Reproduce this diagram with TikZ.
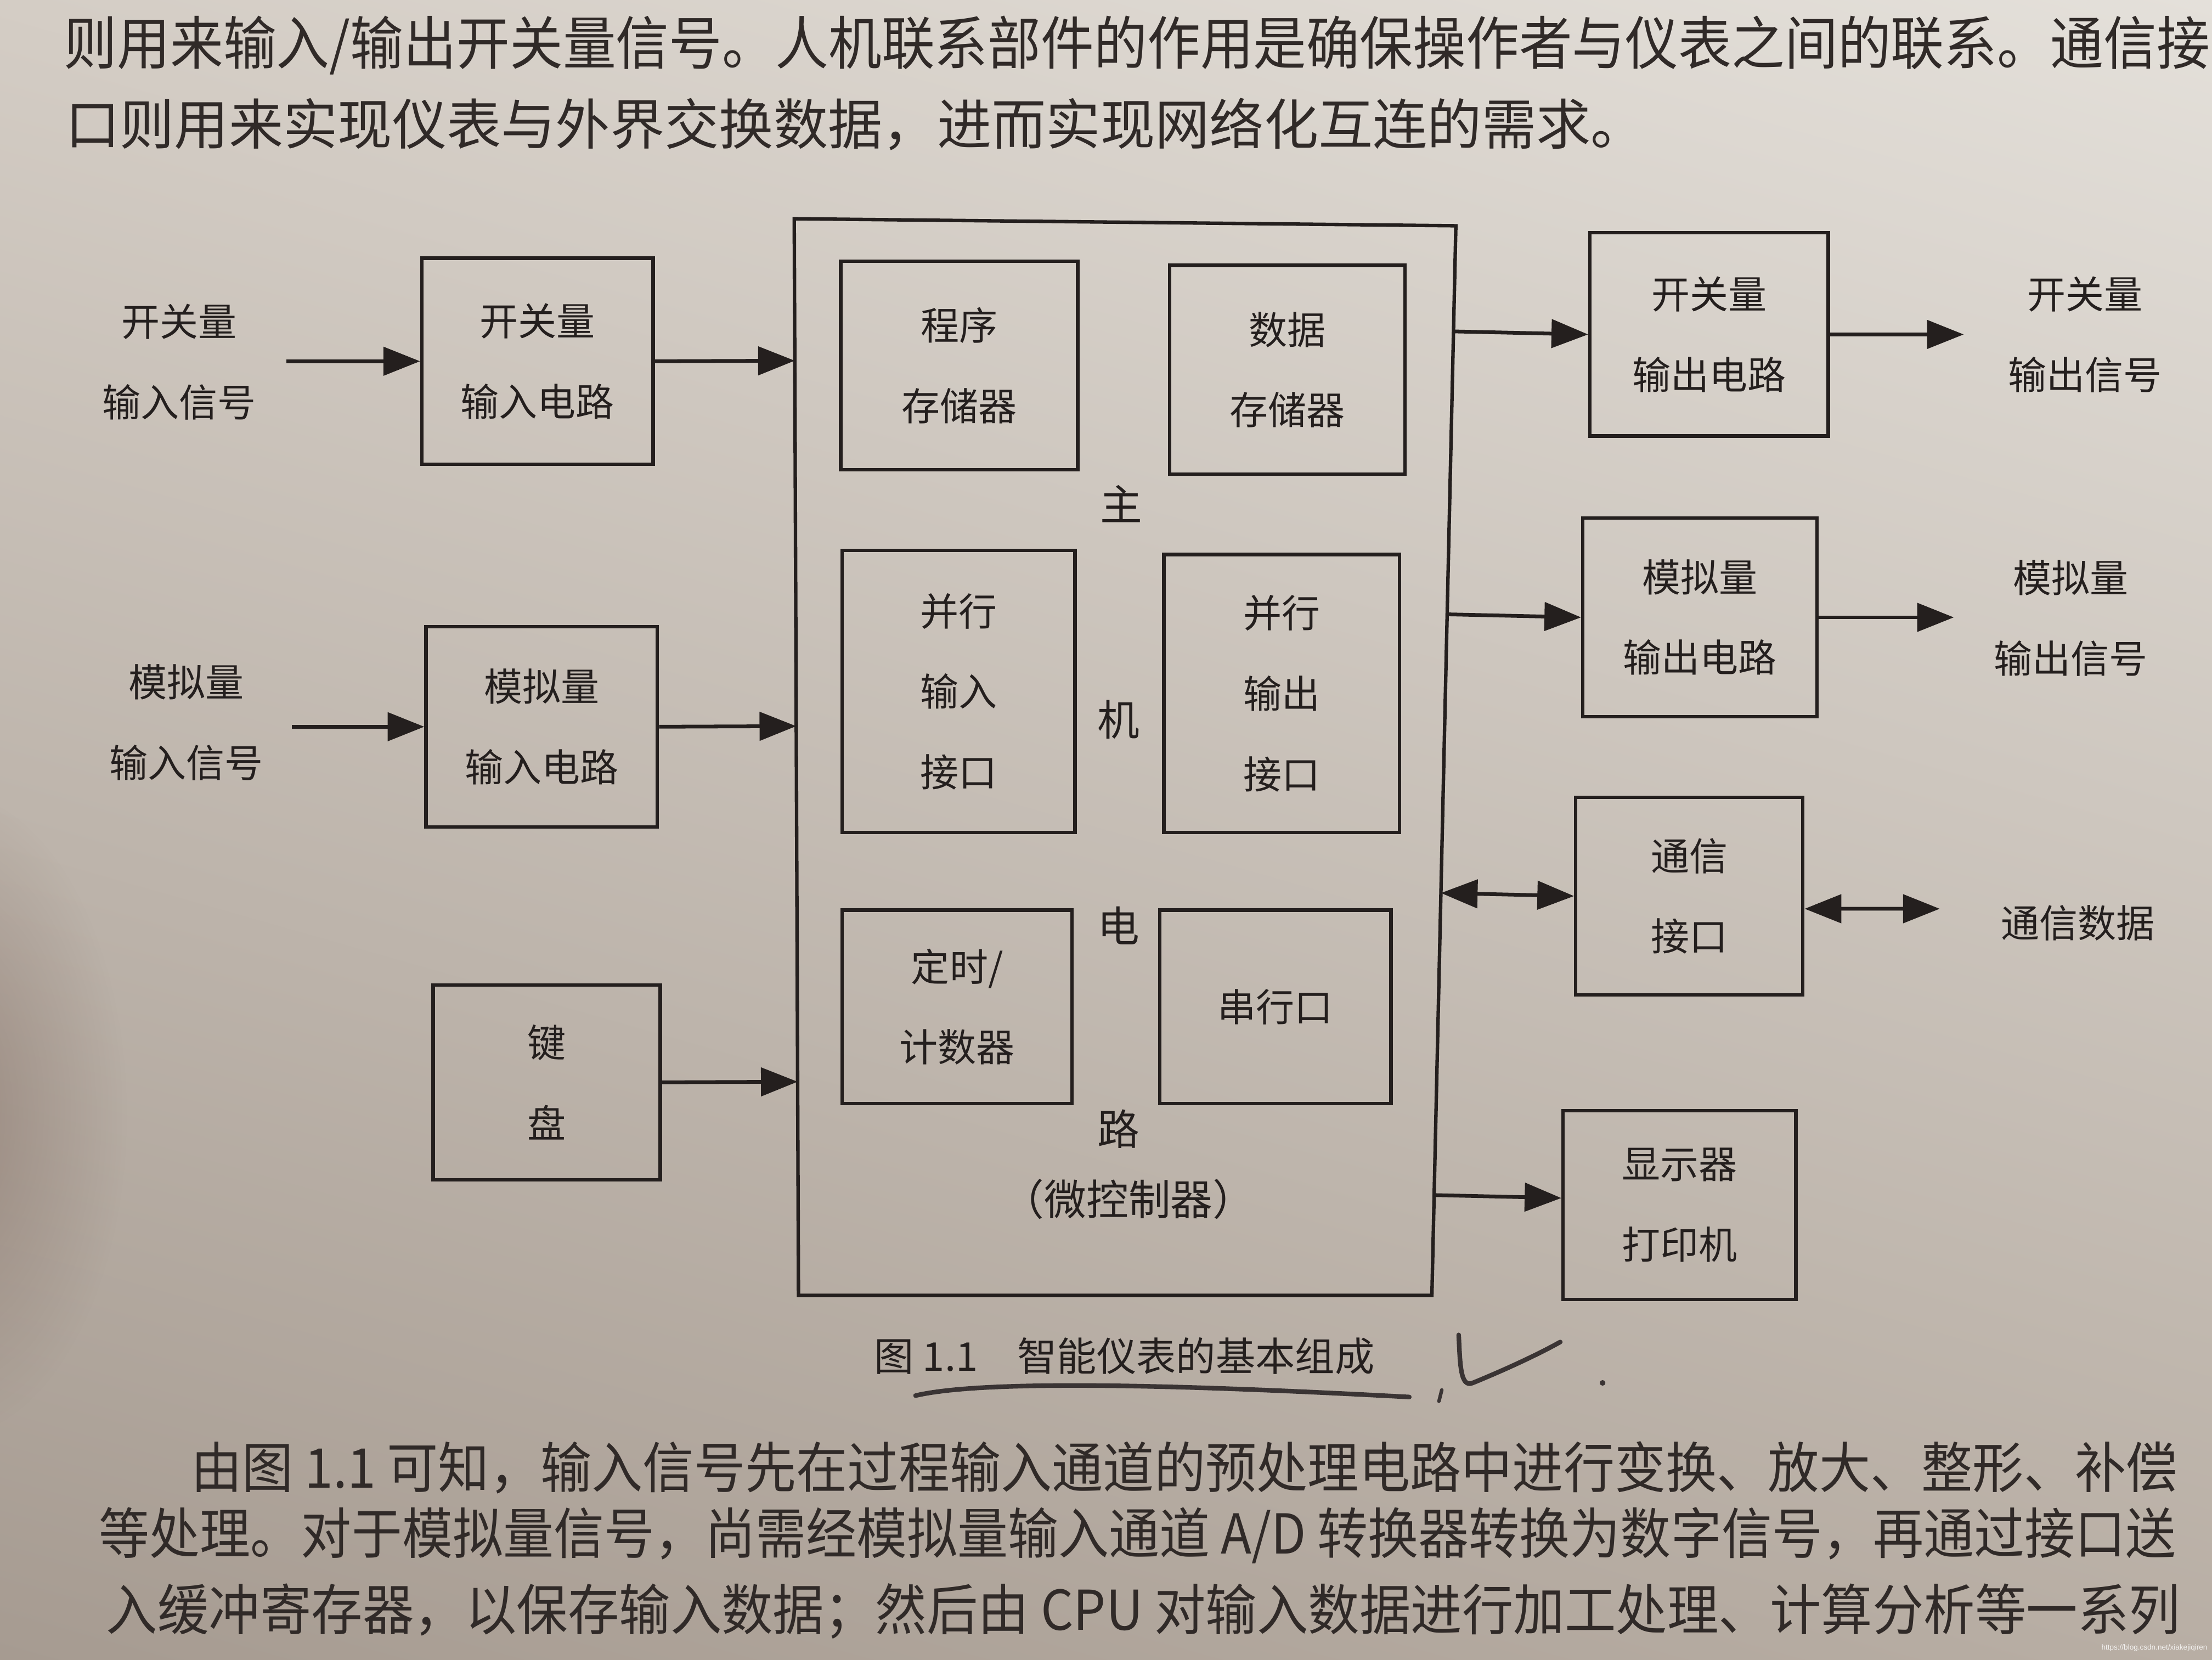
\documentclass[tikz,border=0pt]{standalone}
\usepackage{fontspec}
\setmainfont{Noto Sans CJK SC}
\newfontfamily\wmfont{Liberation Sans}
\usetikzlibrary{arrows.meta,fadings,calc,shadings}
\definecolor{ink}{RGB}{36,31,30}
\definecolor{bodyink}{RGB}{48,42,40}
\definecolor{pencilc}{RGB}{58,52,52}
\definecolor{bgUL}{RGB}{212,205,197}
\definecolor{bgUR}{RGB}{228,224,218}
\definecolor{bgLL}{RGB}{166,155,145}
\definecolor{bgLR}{RGB}{184,174,164}
\definecolor{thumbc}{RGB}{118,94,84}
\tikzfading[name=softfade, inner color=transparent!0, outer color=transparent!100]
\newcommand{\lblfont}{\fontsize{15.5pt}{11.4mm}\selectfont}
\newcommand{\bigfont}{\fontsize{17pt}{20pt}\selectfont}
\newcommand{\capfont}{\fontsize{16pt}{20pt}\selectfont}
\newcommand{\txtfont}{\fontsize{20pt}{24pt}\selectfont}
\begin{document}
\begin{tikzpicture}[x=0.2mm,y=-0.2mm,
  sz/.style 2 args={minimum width=#1*0.2mm, minimum height=#2*0.2mm},
  box/.style={draw=ink, line width=1.4pt, inner sep=0pt, align=center, font=\lblfont, text=ink},
  arr/.style={draw=ink, line width=1.5pt, -{Triangle[length=5.2mm,width=4mm]}},
  darr/.style={draw=ink, line width=1.5pt, {Triangle[length=5.2mm,width=4mm]}-{Triangle[length=5.2mm,width=4mm]}},
  lbl/.style={align=center, font=\lblfont, text=ink, inner sep=0pt},
  body/.style={anchor=west, inner sep=0pt, text=bodyink, font=\txtfont},
  pencil/.style={draw=pencilc, line width=0.65mm, line cap=round, line join=round}]
\useasboundingbox (0,0) rectangle (1568,1176);
\clip (0,0) rectangle (1568,1176);
% page background
\shade[upper left=bgUL, upper right=bgUR, lower left=bgLL, lower right=bgLR] (0,0) rectangle (1568,1176);
\fill[thumbc, path fading=softfade, opacity=0.45] (-40,790) ellipse [x radius=130, y radius=230];

% body text
\node[body] (t1) at (45,32) {\resizebox{304.2mm}{6.9mm}{则用来输入/输出开关量信号。人机联系部件的作用是确保操作者与仪表之间的联系。通信接}};
\node[body] (t2) at (46,88) {\resizebox{224mm}{6.6mm}{口则用来实现仪表与外界交换数据，进而实现网络化互连的需求。}};
\node[body] (b1) at (135,1040) {\resizebox{281.6mm}{6.6mm}{由图 1.1 可知，输入信号先在过程输入通道的预处理电路中进行变换、放大、整形、补偿}};
\node[body] (b2) at (70,1088) {\resizebox{294.4mm}{6.6mm}{等处理。对于模拟量信号，尚需经模拟量输入通道 A/D 转换器转换为数字信号，再通过接口送}};
\node[body] (b3) at (75,1142) {\resizebox{294mm}{6.6mm}{入缓冲寄存器，以保存输入数据；然后由 CPU 对输入数据进行加工处理、计算分析等一系列}};

% main circuit outline
\coordinate (mTL) at (563,155);
\coordinate (mTR) at (1032,160);
\coordinate (mBR) at (1015,918);
\coordinate (mBL) at (566,918);
\draw[ink, line width=1.4pt, line join=miter] (mTL) -- (mTR) -- (mBR) -- (mBL) -- cycle;

% inner blocks
\node[box, sz={168}{148}] (prog)   at (680,259)     {程序\\存储器};
\node[box, sz={167}{148}] (data)   at (912.5,262)   {数据\\存储器};
\node[box, sz={165}{200}] (pin)    at (679.5,490)   {并行\\输入\\接口};
\node[box, sz={167}{197}] (pout)   at (908.5,491.5) {并行\\输出\\接口};
\node[box, sz={163}{137}] (timer)  at (678.5,713.5) {定时/\\计数器};
\node[box, sz={164}{137}] (serial) at (904,713.5)   {串行口};

\node[lbl, font=\bigfont] (zhu) at (795,357) {主};
\node[lbl, font=\bigfont] (ji)  at (793,510) {机};
\node[lbl, font=\bigfont] (dian) at (793,656) {电};
\node[lbl, font=\bigfont] (lu)  at (793,800) {路};
\node[lbl, font=\bigfont] (mcu) at (800,850) {（微控制器）};

% left side
\node[box, sz={164}{146}] (inSw) at (381,256)   {开关量\\输入电路};
\node[box, sz={164}{142}] (inAn) at (384,515)   {模拟量\\输入电路};
\node[box, sz={161}{138}] (kbd)  at (387.5,767) {键\\盘};
\node[lbl] (tIn1) at (127,256.5) {开关量\\输入信号};
\node[lbl] (tIn2) at (132,512)   {模拟量\\输入信号};
\coordinate (sIn1) at (203,256);
\coordinate (sIn2) at (207,515);

% right side
\node[box, sz={169}{144}] (outSw) at (1211.5,237) {开关量\\输出电路};
\node[box, sz={166}{141}] (outAn) at (1205,437.5) {模拟量\\输出电路};
\node[box, sz={161}{140}] (comm)  at (1197.5,635) {通信\\接口};
\node[box, sz={165}{134}] (disp)  at (1190.5,854) {显示器\\打印机};
\node[lbl] (tOut1) at (1478,237) {开关量\\输出信号};
\node[lbl] (tOut2) at (1468,438) {模拟量\\输出信号};
\node[lbl] (tComm) at (1473,654) {通信数据};
\coordinate (sOut1) at (1392,237);
\coordinate (sOut2) at (1385,437.5);
\coordinate (cR) at (1375,644);

% connectors
\draw[arr] (sIn1) -- (inSw.west);
\draw[arr] (inSw.east) -- ($(mTL)!(inSw.east)!(mBL)$);
\draw[arr] (sIn2) -- (inAn.west);
\draw[arr] (inAn.east) -- ($(mTL)!(inAn.east)!(mBL)$);
\draw[arr] (kbd.east) -- ($(mTL)!(kbd.east)!(mBL)$);
\draw[arr] ($(mTR)!(outSw.west)!(mBR)$) -- (outSw.west);
\draw[arr] (outSw.east) -- (sOut1);
\draw[arr] ($(mTR)!(outAn.west)!(mBR)$) -- (outAn.west);
\draw[arr] (outAn.east) -- (sOut2);
\draw[darr] ($(mTR)!(comm.west)!(mBR)$) -- (comm.west);
\draw[darr] ([yshift=-1.8mm]comm.east) -- (cR);
\draw[arr] ($(mTR)!([yshift=1mm]disp.west)!(mBR)$) -- ([yshift=1mm]disp.west);

% caption
\node[lbl, font=\capfont] (cap) at (797,961) {图 1.1\quad 智能仪表的基本组成};

% pencil marks
\draw[pencil] (649,989) .. controls (700,977) and (850,982) .. (999,990);
\draw[pencil, line width=0.5mm] (1022,985) -- (1020,993);
\draw[pencil] (1034,946) .. controls (1035,966) and (1035,984) .. (1044,980) .. controls (1066,971) and (1090,960) .. (1106,951);
\fill[pencilc] (1136,980) circle (2);

% watermark
\node[anchor=east, inner sep=0pt, text=white, opacity=0.85, font=\wmfont\fontsize{3pt}{3.5pt}\selectfont] (wm) at (1565,1168) {https://blog.csdn.net/xiakejiqiren};
\end{tikzpicture}
\end{document}
